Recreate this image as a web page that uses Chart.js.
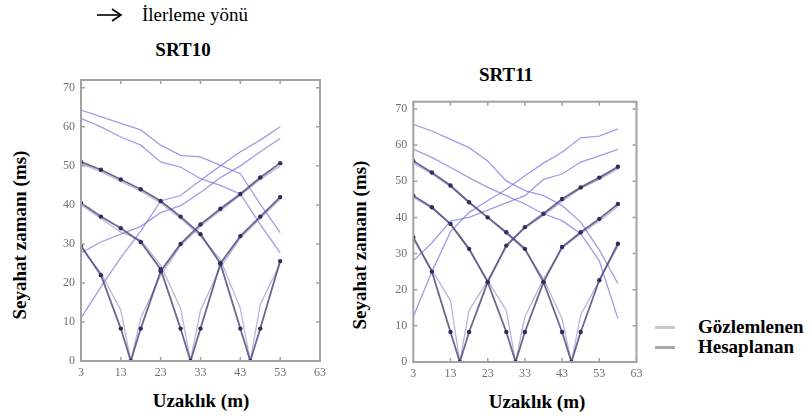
<!DOCTYPE html>
<html>
<head>
<meta charset="utf-8">
<script src="https://cdn.jsdelivr.net/npm/chart.js@4"></script>
<style>
  html, body { margin: 0; padding: 0; background: #fff; }
  body { width: 810px; height: 418px; position: relative; overflow: hidden;
         font-family: "Liberation Serif", "Times New Roman", serif; color: #000; }
  .box { position: absolute; top: 0; height: 418px; }
  .lbl { position: absolute; transform: translate(-50%, -50%); white-space: nowrap; font-size: 19px; }
  .b { font-weight: bold; }
  .rot { transform: translate(-50%, -50%) rotate(-90deg); }
  .key { position: absolute; left: 655px; width: 20px; height: 3px; }
</style>
</head>
<body>

<svg style="position:absolute;left:0;top:0" width="140" height="30">
  <line x1="97" y1="15" x2="121" y2="15" stroke="#000" stroke-width="1.6"/>
  <polyline points="112,9 121,15 112,21" fill="none" stroke="#000" stroke-width="1.6"/>
</svg>
<div class="lbl" style="left:195px;top:15px">İlerleme yönü</div>

<div class="lbl b" style="left:183px;top:50px">SRT10</div>
<div class="lbl b" style="left:506px;top:75px">SRT11</div>

<div class="lbl b rot" style="left:20px;top:235px">Seyahat zamanı (ms)</div>
<div class="lbl b rot" style="left:360px;top:245px">Seyahat zamanı (ms)</div>

<div class="lbl b" style="left:201px;top:401px">Uzaklık (m)</div>
<div class="lbl b" style="left:537px;top:402px">Uzaklık (m)</div>

<div class="key" style="top:326px;background:#c9c9c9"></div>
<div class="key" style="top:346px;background:#a8a8a8"></div>
<div class="b" style="position:absolute;left:698px;top:316px;font-size:19px">Gözlemlenen</div>
<div class="b" style="position:absolute;left:698px;top:336px;font-size:19px">Hesaplanan</div>

<div class="box" style="left:0;width:340px"><canvas id="srt10"></canvas></div>
<div class="box" style="left:340px;width:320px"><canvas id="srt11"></canvas></div>

<script>
// tick labels
const xTicks = [3, 13, 23, 33, 43, 53, 63];
const yTicks = [0, 10, 20, 30, 40, 50, 60, 70];

// SRT10 - geophone distances (m) and shot points
const srt10Dist = [3, 8, 13, 18, 23, 28, 33, 38, 43, 48, 53];
const srt10Shots = [15.5, 30.5, 45.5];
// computed travel times (ms)
const srt10Calc1 = [29.5, 22, 8.3, 8.3, 23, 30, 35, 39, 42.8, 47, 50.7];
const srt10Calc2 = [40.5, 37, 34, 30.5, 23.5, 8.3, 8.3, 25, 32, 37, 42];
const srt10Calc3 = [51, 49, 46.5, 44, 41, 37, 32.5, 25, 8.3, 8.3, 25.6];
// observed travel times (ms)
const srt10Obs1 = [29, 22.5, 13, 11, 22, 29.5, 34.5, 38.5, 42.5, 46.5, 50];
const srt10Obs2 = [40, 36.5, 33, 31, 24.5, 13.5, 13, 24, 31.5, 36.5, 41.5];
const srt10Obs3 = [50.5, 48.5, 46, 43.5, 40.5, 36.5, 32, 26, 13.5, 14.5, 25];
// off-end shots
const srt10RiseA = [11, 19, 26.5, 33.3, 41, 42.4, 46.3, 50, 53.6, 56.6, 60];
const srt10RiseB = [27.7, 30.5, 32.5, 34.5, 38, 39.8, 43.2, 47, 50, 53.6, 57];
const srt10DescA = [64.3, 62.6, 60.9, 59.2, 55.3, 52.7, 52.3, 50.1, 48, 40.2, 32.9];
const srt10DescB = [62.2, 60, 57.4, 55.3, 51, 49.7, 46.7, 45, 42.8, 35, 27.7];

// SRT11
const srt11Dist = [3, 8, 13, 18, 23, 28, 33, 38, 43, 48, 53, 58];
const srt11Shots = [15.5, 30.5, 45.5];
const srt11Calc1 = [34.5, 25, 8.3, 8.3, 22.1, 32.2, 37.3, 41, 45.1, 48.3, 51, 54];
const srt11Calc2 = [46, 42.8, 38.2, 31.3, 22.1, 8.3, 8.3, 22.1, 31.8, 35.9, 39.6, 43.7];
const srt11Calc3 = [55.6, 52.4, 48.8, 44.2, 40, 35.9, 31.3, 22.1, 8.3, 8.3, 22.6, 32.7];
const srt11Obs1 = [34, 25.5, 17, 14.3, 22.5, 32, 37, 40.5, 44.5, 48, 50.5, 53.5];
const srt11Obs2 = [45.5, 42.5, 38, 31, 22.5, 14.3, 12.5, 23, 31.5, 35.5, 39, 43];
const srt11Obs3 = [55, 52, 48.5, 44, 40, 35.5, 31, 23, 12, 13, 22.5, 32];
const srt11RiseA = [12.5, 25, 36, 41.4, 44.6, 47.8, 51.5, 55, 58, 62, 62.5, 64.5];
const srt11RiseB = [28, 33, 39, 40, 42, 44, 46, 50.5, 52, 55.3, 57, 58.8];
const srt11DescA = [65.7, 63.9, 61.6, 59.3, 55.6, 50.1, 47.4, 46, 43.3, 38.7, 31, 21.7];
const srt11DescB = [58.9, 56.6, 53.8, 51, 48.3, 46, 43.7, 41, 39.1, 35.5, 28, 12];

const calcColor = 'rgba(78, 78, 125, 0.85)';
const dotColor = '#2e2e5e';
const obsColor = 'rgba(135, 135, 200, 0.6)';
const offColor = 'rgba(115, 115, 225, 0.7)';
const frameColor = '#a2a2a2';

function points(dist, vals, shot) {
    const p = dist.map((d, i) => ({ x: d, y: vals[i] }));
    if (shot !== undefined) {
        p.push({ x: shot, y: 0 });
        p.sort((a, b) => a.x - b.x);
    }
    return p;
}

function calcSet(dist, vals, shot) {
    return {
        data: points(dist, vals, shot),
        borderColor: calcColor,
        borderWidth: 1.8,
        pointRadius: 2.2,
        pointBackgroundColor: dotColor,
        pointBorderWidth: 0
    };
}

function lineSet(dist, vals, shot, color) {
    return {
        data: points(dist, vals, shot),
        borderColor: color,
        borderWidth: 1.3,
        pointRadius: 0
    };
}

// frame with inward tick marks on all four sides
const framePlugin = {
    id: 'frame',
    afterDatasetsDraw(chart) {
        const { ctx, chartArea: a, scales } = chart;
        ctx.save();
        ctx.strokeStyle = frameColor;
        ctx.lineWidth = 2;
        ctx.strokeRect(a.left, a.top, a.right - a.left, a.bottom - a.top);
        ctx.lineWidth = 1.5;
        ctx.beginPath();
        xTicks.forEach(v => {
            const px = scales.x.getPixelForValue(v);
            ctx.moveTo(px, a.bottom); ctx.lineTo(px, a.bottom - 4);
            ctx.moveTo(px, a.top); ctx.lineTo(px, a.top + 4);
        });
        yTicks.forEach(v => {
            const py = scales.y.getPixelForValue(v);
            ctx.moveTo(a.left, py); ctx.lineTo(a.left + 4, py);
            ctx.moveTo(a.right, py); ctx.lineTo(a.right - 4, py);
        });
        ctx.stroke();
        ctx.restore();
    }
};

function makeChart(id, datasets, yWidth, xHeight, padTop, padRight) {
    const tickFont = { family: '"Liberation Serif", serif', size: 12 };
    return new Chart(document.getElementById(id), {
        type: 'line',
        data: { datasets: datasets },
        plugins: [framePlugin],
        options: {
            responsive: true,
            maintainAspectRatio: false,
            animation: false,
            layout: { padding: { top: padTop, right: padRight, left: 0, bottom: 0 } },
            plugins: { legend: { display: false }, tooltip: { enabled: false } },
            scales: {
                x: {
                    type: 'linear',
                    min: 3,
                    max: 63,
                    afterBuildTicks: s => { s.ticks = xTicks.map(v => ({ value: v })); },
                    afterFit: s => { s.height = xHeight; },
                    grid: { display: false, drawTicks: false },
                    border: { display: false },
                    ticks: { color: '#6f6f6f', font: tickFont, padding: 5, maxRotation: 0, autoSkip: false }
                },
                y: {
                    min: 0,
                    max: 72,
                    afterBuildTicks: s => { s.ticks = yTicks.map(v => ({ value: v })); },
                    afterFit: s => { s.width = yWidth; },
                    grid: { display: false, drawTicks: false },
                    border: { display: false },
                    ticks: { color: '#6f6f6f', font: tickFont, padding: 6 }
                }
            }
        }
    });
}

const srt10Sets = [
    calcSet(srt10Dist, srt10Calc1, srt10Shots[0]),
    calcSet(srt10Dist, srt10Calc2, srt10Shots[1]),
    calcSet(srt10Dist, srt10Calc3, srt10Shots[2]),
    lineSet(srt10Dist, srt10Obs1, srt10Shots[0], obsColor),
    lineSet(srt10Dist, srt10Obs2, srt10Shots[1], obsColor),
    lineSet(srt10Dist, srt10Obs3, srt10Shots[2], obsColor),
    lineSet(srt10Dist, srt10RiseA, undefined, offColor),
    lineSet(srt10Dist, srt10RiseB, undefined, offColor),
    lineSet(srt10Dist, srt10DescA, undefined, offColor),
    lineSet(srt10Dist, srt10DescB, undefined, offColor)
];

const srt11Sets = [
    calcSet(srt11Dist, srt11Calc1, srt11Shots[0]),
    calcSet(srt11Dist, srt11Calc2, srt11Shots[1]),
    calcSet(srt11Dist, srt11Calc3, srt11Shots[2]),
    lineSet(srt11Dist, srt11Obs1, srt11Shots[0], obsColor),
    lineSet(srt11Dist, srt11Obs2, srt11Shots[1], obsColor),
    lineSet(srt11Dist, srt11Obs3, srt11Shots[2], obsColor),
    lineSet(srt11Dist, srt11RiseA, undefined, offColor),
    lineSet(srt11Dist, srt11RiseB, undefined, offColor),
    lineSet(srt11Dist, srt11DescA, undefined, offColor),
    lineSet(srt11Dist, srt11DescB, undefined, offColor)
];

makeChart('srt10', srt10Sets, 81, 57, 80, 20);
makeChart('srt11', srt11Sets, 73.3, 56, 101.7, 23.5);
</script>
</body>
</html>
